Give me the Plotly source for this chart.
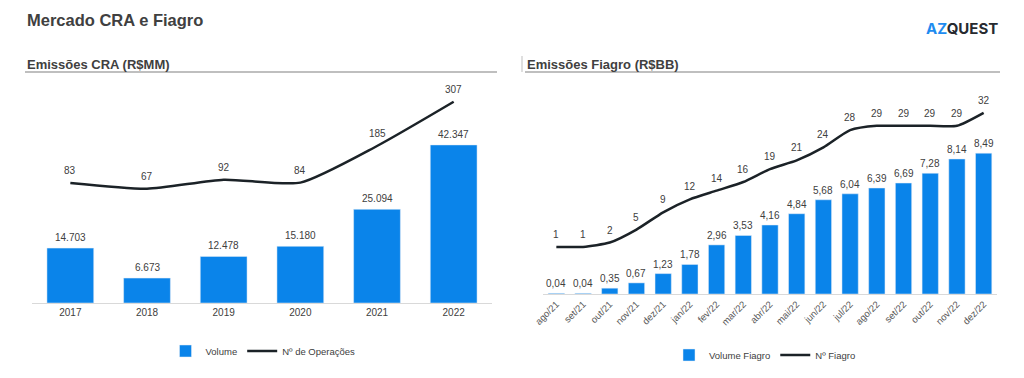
import plotly.graph_objects as go

# ---------------- data ----------------
cra_years = ["2017", "2018", "2019", "2020", "2021", "2022"]
cra_volume = [14703, 6673, 12478, 15180, 25094, 42347]
cra_ops = [83, 67, 92, 84, 185, 307]

fiagro_months = ["ago/21", "set/21", "out/21", "nov/21", "dez/21", "jan/22", "fev/22", "mar/22",
                 "abr/22", "mai/22", "jun/22", "jul/22", "ago/22", "set/22", "out/22", "nov/22", "dez/22"]
fiagro_volume = [0.04, 0.04, 0.35, 0.67, 1.23, 1.78, 2.96, 3.53, 4.16, 4.84, 5.68, 6.04, 6.39, 6.69, 7.28, 8.14, 8.49]
fiagro_count = [1, 1, 2, 5, 9, 12, 14, 16, 19, 21, 24, 28, 29, 29, 29, 29, 32]

BLUE = "#0A84EA"
LINE = "#1B2227"
TXT = "#404040"
FONT = "Liberation Sans, Arial, sans-serif"
W, H = 1024, 378


def px_x(p):
    return p / W


def px_y(p):
    return (H - p) / H


def fmt_thousands(v):
    return f"{v:,}".replace(",", ".")


def fmt_dec(v):
    return f"{v:.2f}".replace(".", ",")


fig = go.Figure()

# ---------------- left chart ----------------
fig.add_trace(go.Bar(x=cra_years, y=cra_volume, name="Volume", marker_color=BLUE,
                     xaxis="x", yaxis="y", legend="legend"))
fig.add_trace(go.Scatter(x=cra_years, y=cra_ops, name="Nº de Operações", mode="lines",
                         line=dict(color=LINE, width=2.5, shape="spline", smoothing=0.6),
                         xaxis="x", yaxis="y2", legend="legend"))

# ---------------- right chart ----------------
fig.add_trace(go.Bar(x=fiagro_months, y=fiagro_volume, name="Volume Fiagro", marker_color=BLUE,
                     xaxis="x2", yaxis="y3", legend="legend2"))
fig.add_trace(go.Scatter(x=fiagro_months, y=fiagro_count, name="Nº Fiagro", mode="lines",
                         line=dict(color=LINE, width=2.5, shape="spline", smoothing=0.6),
                         xaxis="x2", yaxis="y4", legend="legend2"))

annotations = []
for i, v in enumerate(cra_volume):
    annotations.append(dict(x=i, y=v, xref="x", yref="y", text=fmt_thousands(v), showarrow=False,
                            yanchor="bottom", yshift=3, font=dict(size=10, color=TXT, family=FONT)))
for i, v in enumerate(cra_ops):
    annotations.append(dict(x=i, y=v, xref="x", yref="y2", text=str(v), showarrow=False,
                            yanchor="bottom", yshift=5, font=dict(size=10, color=TXT, family=FONT)))
for i, v in enumerate(fiagro_volume):
    annotations.append(dict(x=i, y=v, xref="x2", yref="y3", text=fmt_dec(v), showarrow=False,
                            yanchor="bottom", yshift=2, font=dict(size=10, color=TXT, family=FONT)))
for i, v in enumerate(fiagro_count):
    annotations.append(dict(x=i, y=v, xref="x2", yref="y4", text=str(v), showarrow=False,
                            yanchor="bottom", yshift=5, font=dict(size=10, color=TXT, family=FONT)))

# titles
annotations += [
    dict(x=px_x(25), y=px_y(20), xref="paper", yref="paper", xanchor="left", yanchor="middle",
         text="<b>Mercado CRA e Fiagro</b>", showarrow=False,
         font=dict(size=16.5, color=TXT, family=FONT)),
    dict(x=px_x(25), y=px_y(64), xref="paper", yref="paper", xanchor="left", yanchor="middle",
         text="<b>Emissões CRA (R$MM)</b>", showarrow=False,
         font=dict(size=13, color=TXT, family=FONT)),
    dict(x=px_x(525), y=px_y(64), xref="paper", yref="paper", xanchor="left", yanchor="middle",
         text="<b>Emissões Fiagro (R$BB)</b>", showarrow=False,
         font=dict(size=13, color=TXT, family=FONT)),
    dict(x=px_x(1000), y=px_y(28), xref="paper", yref="paper", xanchor="right", yanchor="middle",
         text="<b><span style='color:#1E8CF0'>AZ</span>QUEST</b>", showarrow=False,
         font=dict(size=15, color="#262A30", family="Inter, DejaVu Sans, sans-serif")),
]

shapes = [
    dict(type="line", xref="paper", yref="paper", x0=px_x(25), x1=px_x(497), y0=px_y(72), y1=px_y(72),
         line=dict(color="#BFBFBF", width=2)),
    dict(type="line", xref="paper", yref="paper", x0=px_x(525), x1=px_x(1000), y0=px_y(72), y1=px_y(72),
         line=dict(color="#BFBFBF", width=2)),
    dict(type="line", xref="paper", yref="paper", x0=px_x(522), x1=px_x(522), y0=px_y(56), y1=px_y(72),
         line=dict(color="#BFBFBF", width=1)),
]

axis_common = dict(showgrid=False, zeroline=False, fixedrange=True)

fig.update_layout(
    width=W, height=H,
    margin=dict(l=0, r=0, t=0, b=0, pad=0, autoexpand=False),
    paper_bgcolor="white", plot_bgcolor="white",
    font=dict(family=FONT, color=TXT),
    barmode="group",
    bargap=0.39,
    showlegend=True,
    xaxis=dict(domain=[px_x(32), px_x(492)], anchor="y", type="category", showline=True,
               range=[-0.5, len(cra_years) - 0.5],
               linecolor="#D9D9D9", linewidth=1, ticks="",
               tickfont=dict(size=10, color=TXT, family=FONT), **axis_common),
    yaxis=dict(domain=[px_y(303), px_y(88)], anchor="x", range=[0, 57600], visible=False, **axis_common),
    yaxis2=dict(domain=[px_y(303), px_y(88)], anchor="x", overlaying="y", range=[-248, 345],
                visible=False, **axis_common),
    xaxis2=dict(domain=[px_x(543), px_x(997)], anchor="y3", type="category", showline=True,
                range=[-0.5, len(fiagro_months) - 0.5],
                linecolor="#D9D9D9", linewidth=1, ticks="", tickangle=-45,
                tickfont=dict(size=9.5, color="#595959", family=FONT), **axis_common),
    yaxis3=dict(domain=[px_y(294), px_y(88)], anchor="x2", range=[0, 12.42], visible=False, **axis_common),
    yaxis4=dict(domain=[px_y(294), px_y(88)], anchor="x2", overlaying="y3", range=[-9.9, 37.75],
                visible=False, **axis_common),
    legend=dict(orientation="h", x=px_x(263), y=px_y(351), xanchor="center", yanchor="middle",
                font=dict(size=9.5, color=TXT, family=FONT), bgcolor="rgba(0,0,0,0)",
                itemwidth=30, tracegroupgap=0),
    legend2=dict(orientation="h", x=px_x(765), y=px_y(355), xanchor="center", yanchor="middle",
                 font=dict(size=9.5, color=TXT, family=FONT), bgcolor="rgba(0,0,0,0)",
                 itemwidth=30, tracegroupgap=0),
    annotations=annotations,
    shapes=shapes,
)

fig.write_html("out.html", config={"displayModeBar": False},
               post_script="document.body.style.margin='0';")
